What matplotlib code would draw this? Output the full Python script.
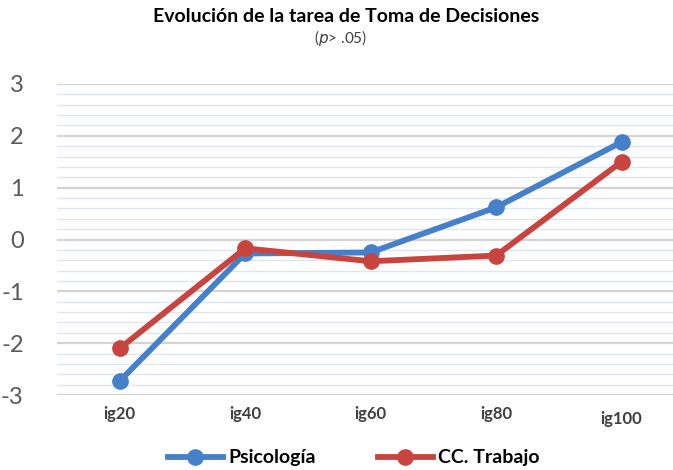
import matplotlib
matplotlib.use("Agg")
import matplotlib.pyplot as plt
import matplotlib.transforms as mtransforms
import numpy as np

categories = ["ig20", "ig40", "ig60", "ig80", "ig100"]
psicologia = [-2.73, -0.27, -0.25, 0.62, 1.88]
cc_trabajo = [-2.10, -0.17, -0.42, -0.31, 1.50]
yticks = [-3, -2, -1, 0, 1, 2, 3]

plt.rcParams['font.family'] = ['Lato', 'DejaVu Sans']

W, H = 673, 470
fig = plt.figure(figsize=(W/100, H/100), dpi=100)
ax = fig.add_axes([57/W, 1-395/H, (673-57)/W, (395-84)/H])

x = np.arange(len(categories))
blue = '#4580c8'
red = '#c8443e'

# grid
minor = np.arange(-3, 3.01, 0.2)
for v in minor:
    if abs(v - round(v)) > 1e-6:
        ax.axhline(v, color='#dde6f0', lw=1.0, zorder=0)
for v in yticks:
    ax.axhline(v, color='#d4d4d4', lw=1.6, zorder=0)

ax.plot(x, psicologia, color=blue, lw=4.2, marker='o', ms=11, label='Psicología', zorder=3)
ax.plot(x, cc_trabajo, color=red, lw=4.2, marker='o', ms=11, label='CC. Trabajo', zorder=4)

ax.set_xlim(-0.5, 4.41)
ax.set_ylim(-3, 3)
ax.set_yticks(yticks)
ax.set_yticklabels([str(v) for v in yticks], fontsize=17, color='#595959')
ax.set_xticks(x)
ax.set_xticklabels(categories, fontsize=12, color='#404040', fontweight='bold')
ax.tick_params(axis='y', length=0, pad=24)
ax.tick_params(axis='x', length=0, pad=8)
for s in ax.spines.values():
    s.set_visible(False)
lbl = ax.get_xticklabels()[-1]
lbl.set_transform(lbl.get_transform() + mtransforms.ScaledTranslation(0, -5/100, fig.dpi_scale_trans))

fig.text(346/W, 1-16/H, "Evolución de la tarea de Toma de Decisiones", ha='center', va='center',
         fontsize=14, fontweight='bold', color='#000000')
fig.text(341/W, 1-38/H, r"($\it{p}$> .05)", ha='center', va='center', fontsize=11, color='#404040')

leg = fig.legend(loc='center', bbox_to_anchor=(354/W, 1-458/H), ncol=2, frameon=False,
                 prop={'size': 14, 'weight': 'bold'}, handlelength=2.8, columnspacing=3.2,
                 handletextpad=0.3)
for t in leg.get_texts():
    t.set_color('#000000')

fig.savefig("out.png", dpi=100)
